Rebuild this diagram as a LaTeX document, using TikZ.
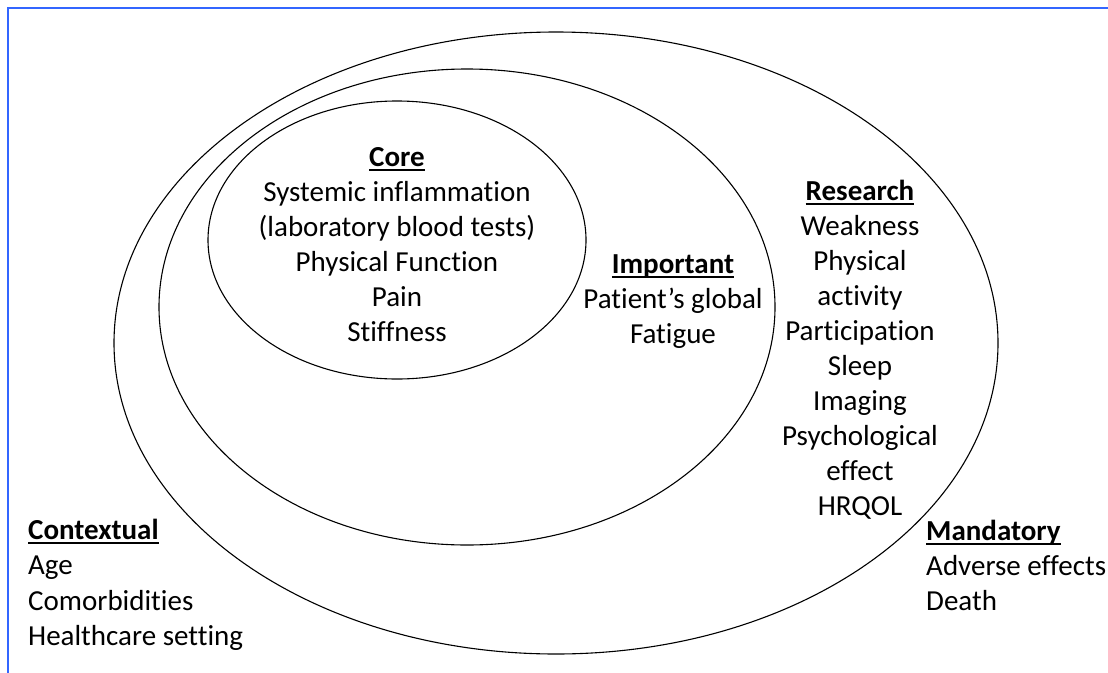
\documentclass[tikz,border=0pt]{standalone}
\usepackage{fontspec}
\setmainfont[Ligatures=NoCommon]{Carlito}
\newcommand\ulhead[1]{\setbox0\hbox{\textbf{#1}}\rlap{\rule[-0.175em]{\wd0}{0.07em}}\box0}
\definecolor{frameblue}{RGB}{51,102,255}
\begin{document}
\begin{tikzpicture}[x=1pt,y=-1pt,
  ring/.style={draw=black, line width=1.1pt},
  lbl/.style={inner sep=0pt, font=\fontsize{29}{35}\selectfont, anchor=base},
  lbll/.style={lbl, anchor=base west}]
\useasboundingbox (0,0) rectangle (1108,672);
% frame (top and left edges)
\draw[frameblue, line width=2.2pt] (8.3,680) -- (8.3,7.7) -- (1120,7.7);
% nested ellipses
\draw[ring] (556,343) ellipse [x radius=442, y radius=311];
\draw[ring] (467,307) ellipse [x radius=308, y radius=238];
\draw[ring] (397,240) ellipse [x radius=189, y radius=139];
% core
\foreach \t [count=\i] in {{\ulhead{Core}}, Systemic inflammation, (laboratory blood tests), Physical Function, Pain, Stiffness}
  \node[lbl] (core\i) at (397,{166+35*(\i-1)}) {\t};
% important
\foreach \t [count=\i] in {{\ulhead{Important}}, Patient’s global, Fatigue}
  \node[lbl] (imp\i) at (673,{273+35*(\i-1)}) {\t};
% research
\foreach \t [count=\i] in {{\ulhead{Research}}, Weakness, Physical, activity, Participation, Sleep, Imaging, Psychological, effect, HRQOL}
  \node[lbl] (res\i) at (860,{200+35*(\i-1)}) {\t};
% mandatory
\foreach \t [count=\i] in {{\ulhead{Mandatory}}, Adverse effects, Death}
  \node[lbll] (man\i) at (926,{540+35*(\i-1)}) {\t};
% contextual
\foreach \t [count=\i] in {{\ulhead{Contextual}}, Age, Comorbidities, Healthcare setting}
  \node[lbll] (ctx\i) at (28,{539+35.5*(\i-1)}) {\t};
\end{tikzpicture}
\end{document}
